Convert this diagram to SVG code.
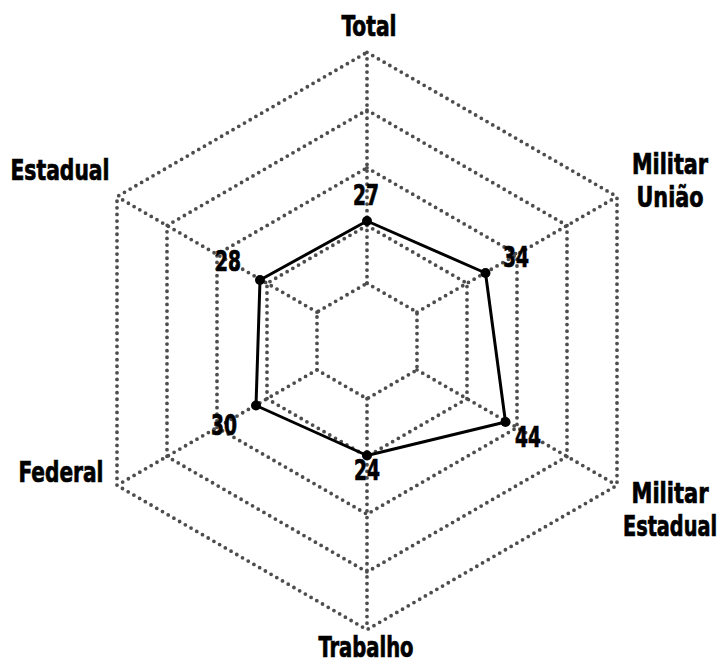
<svg xmlns="http://www.w3.org/2000/svg" width="726" height="664" viewBox="0 0 726 664">
<style>
.grid{fill:none;stroke:#4d4d4d;stroke-width:3.8;stroke-linecap:round;stroke-dasharray:0 6.6}
.data{fill:none;stroke:#000;stroke-width:3;stroke-linejoin:round}
.pt{fill:#000}
text{font-family:"Liberation Sans Narrow","DejaVu Sans Condensed","Liberation Sans",sans-serif;font-weight:bold;fill:#000;stroke:#000;stroke-width:0.7;text-anchor:middle}
.lab{font-size:28px}
.num{font-size:28px}
</style>
<rect width="726" height="664" fill="#fff"/>
<g id="grid">
<polygon class="grid" points="367,283.26 417,312.13 417,369.87 367,398.74 317,369.87 317,312.13"/>
<polygon class="grid" points="367,225.53 467,283.26 467,398.74 367,456.47 267,398.74 267,283.26"/>
<polygon class="grid" points="367,167.79 517,254.4 517,427.6 367,514.21 217,427.6 217,254.4"/>
<polygon class="grid" points="367,110.06 567,225.53 567,456.47 367,571.94 167,456.47 167,225.53"/>
<polygon class="grid" points="367,52.32 617,196.66 617,485.34 367,629.68 117,485.34 117,196.66"/>
</g>
<g id="connectors">
<line class="grid" x1="367" y1="283.26" x2="367" y2="52.32"/>
<line class="grid" x1="417" y1="312.13" x2="617" y2="196.66"/>
<line class="grid" x1="417" y1="369.87" x2="617" y2="485.34"/>
<line class="grid" x1="367" y1="398.74" x2="367" y2="629.68"/>
<line class="grid" x1="317" y1="369.87" x2="117" y2="485.34"/>
<line class="grid" x1="317" y1="312.13" x2="117" y2="196.66"/>
</g>
<g id="series">
<polygon class="data" points="367,221 485.5,273 505.5,422 367,455.5 256,405.5 260,280"/>
<circle class="pt" cx="367" cy="221" r="5"/>
<circle class="pt" cx="485.5" cy="273" r="5"/>
<circle class="pt" cx="505.5" cy="422" r="5"/>
<circle class="pt" cx="367" cy="455.5" r="5"/>
<circle class="pt" cx="256" cy="405.5" r="5"/>
<circle class="pt" cx="260" cy="280" r="5"/>
</g>
<g id="values">
<text class="num" x="366" y="205" textLength="26" lengthAdjust="spacingAndGlyphs">27</text>
<text class="num" x="516" y="267" textLength="26" lengthAdjust="spacingAndGlyphs">34</text>
<text class="num" x="528" y="447" textLength="26" lengthAdjust="spacingAndGlyphs">44</text>
<text class="num" x="367" y="480" textLength="26" lengthAdjust="spacingAndGlyphs">24</text>
<text class="num" x="224" y="435" textLength="26" lengthAdjust="spacingAndGlyphs">30</text>
<text class="num" x="228" y="271" textLength="26" lengthAdjust="spacingAndGlyphs">28</text>
</g>
<g id="label-total"><text class="lab" x="369" y="36" textLength="55" lengthAdjust="spacingAndGlyphs">Total</text></g>
<g id="label-militar-uniao">
<text class="lab" x="670" y="174" textLength="76" lengthAdjust="spacingAndGlyphs">Militar</text>
<text class="lab" x="670" y="207" textLength="67" lengthAdjust="spacingAndGlyphs">União</text>
</g>
<g id="label-militar-estadual">
<text class="lab" x="670" y="503" textLength="77" lengthAdjust="spacingAndGlyphs">Militar</text>
<text class="lab" x="670" y="536" textLength="94" lengthAdjust="spacingAndGlyphs">Estadual</text>
</g>
<g id="label-trabalho"><text class="lab" x="366" y="657" textLength="95" lengthAdjust="spacingAndGlyphs">Trabalho</text></g>
<g id="label-federal"><text class="lab" x="61" y="482" textLength="85" lengthAdjust="spacingAndGlyphs">Federal</text></g>
<g id="label-estadual"><text class="lab" x="60" y="180" textLength="99" lengthAdjust="spacingAndGlyphs">Estadual</text></g>
</svg>
